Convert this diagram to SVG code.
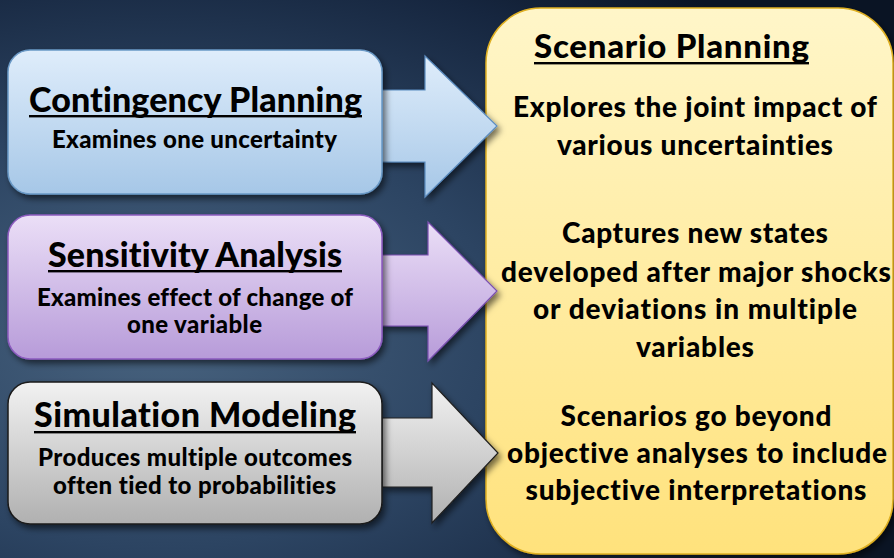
<svg xmlns="http://www.w3.org/2000/svg" width="894" height="558" viewBox="0 0 894 558">
<defs>
<radialGradient id="bg" cx="0.18" cy="0.6" r="0.85" gradientUnits="objectBoundingBox">
<stop offset="0" stop-color="#48637f"/>
<stop offset="0.45" stop-color="#2c4462"/>
<stop offset="0.8" stop-color="#16263f"/>
<stop offset="1" stop-color="#0a1424"/>
</radialGradient>
<linearGradient id="gBlue" x1="0" y1="0" x2="0" y2="1"><stop offset="0" stop-color="#dfedfb"/><stop offset="1" stop-color="#a6c7e7"/></linearGradient>
<linearGradient id="gPurple" x1="0" y1="0" x2="0" y2="1"><stop offset="0" stop-color="#ebdff7"/><stop offset="1" stop-color="#b79bd9"/></linearGradient>
<linearGradient id="gGray" x1="0" y1="0" x2="0" y2="1"><stop offset="0" stop-color="#f2f2f2"/><stop offset="1" stop-color="#b0b0b0"/></linearGradient>
<linearGradient id="gYellow" x1="0" y1="0" x2="0" y2="1"><stop offset="0" stop-color="#fff6c9"/><stop offset="1" stop-color="#ffe27c"/></linearGradient>
<filter id="sh" x="-10%" y="-10%" width="125%" height="130%">
<feDropShadow dx="3" dy="4" stdDeviation="3" flood-color="#000" flood-opacity="0.55"/>
</filter>
</defs>
<style>
text{font-family:Lato,"Open Sans","Liberation Sans",sans-serif;font-weight:900;fill:#000;text-anchor:middle;font-variant-ligatures:none;font-feature-settings:"liga" 0}
.t{font-size:34px}
.s{font-size:24px}
.r{font-size:28px}
.rt{font-size:33px}
.ul{fill:#000}
</style>
<rect x="0" y="0" width="894" height="558" fill="url(#bg)"/>

<g id="scenario-planning">
<rect x="486" y="8" width="407" height="546" rx="55" ry="55" fill="url(#gYellow)" stroke="#e0b020" stroke-width="1.5" filter="url(#sh)"/>
<text class="rt" x="671.5" y="58" textLength="275">Scenario Planning</text>
<rect class="ul" x="534" y="62" width="275" height="2.4"/>
<text class="r" x="695" y="117" textLength="364">Explores the joint impact of</text>
<text class="r" x="695" y="155" textLength="276">various uncertainties</text>
<text class="r" x="695" y="243" textLength="266">Captures new states</text>
<text class="r" x="696" y="282" textLength="390">developed after major shocks</text>
<text class="r" x="695" y="319" textLength="324">or deviations in multiple</text>
<text class="r" x="695" y="357" textLength="118">variables</text>
<text class="r" x="696" y="426" textLength="271">Scenarios go beyond</text>
<text class="r" x="697" y="463" textLength="380">objective analyses to include</text>
<text class="r" x="696" y="500" textLength="341">subjective interpretations</text>
</g>

<g id="connectors">
<polygon points="382,90 425,90 425,56 497,126 425,197 425,162 382,162" fill="url(#gBlue)" stroke="#5b8cbf" stroke-width="1.2" filter="url(#sh)"/>
<polygon points="382,255 428,255 428,222 497,291 428,361 428,326 382,326" fill="url(#gPurple)" stroke="#7a4fb0" stroke-width="1.2" filter="url(#sh)"/>
<polygon points="382,418 432,418 432,383 498,453 432,523 432,487 382,487" fill="url(#gGray)" stroke="#1e1e1e" stroke-width="1.2" filter="url(#sh)"/>
</g>

<g id="contingency-planning">
<rect x="8" y="50" width="374" height="144" rx="22" ry="22" fill="url(#gBlue)" stroke="#6a99c6" stroke-width="1.5" filter="url(#sh)"/>
<text class="t" x="195.5" y="111.5" textLength="333">Contingency Planning</text>
<rect class="ul" x="29" y="115" width="333" height="2.4"/>
<text class="s" x="194.5" y="148" textLength="285">Examines one uncertainty</text>
</g>

<g id="sensitivity-analysis">
<rect x="8" y="215" width="374" height="144" rx="22" ry="22" fill="url(#gPurple)" stroke="#8c5bbf" stroke-width="1.5" filter="url(#sh)"/>
<text class="t" x="195" y="266.5" textLength="294">Sensitivity Analysis</text>
<rect class="ul" x="48" y="270" width="294" height="2.4"/>
<text class="s" x="195" y="306" textLength="316">Examines effect of change of</text>
<text class="s" x="194.5" y="333" textLength="135">one variable</text>
</g>

<g id="simulation-modeling">
<rect x="8" y="382" width="374" height="142" rx="22" ry="22" fill="url(#gGray)" stroke="#1a1a1a" stroke-width="1.5" filter="url(#sh)"/>
<text class="t" x="195" y="426.5" textLength="322">Simulation Modeling</text>
<rect class="ul" x="34" y="431" width="322" height="2.4"/>
<text class="s" x="195" y="466" textLength="314">Produces multiple outcomes</text>
<text class="s" x="194.5" y="494" textLength="283">often tied to probabilities</text>
</g>
</svg>
